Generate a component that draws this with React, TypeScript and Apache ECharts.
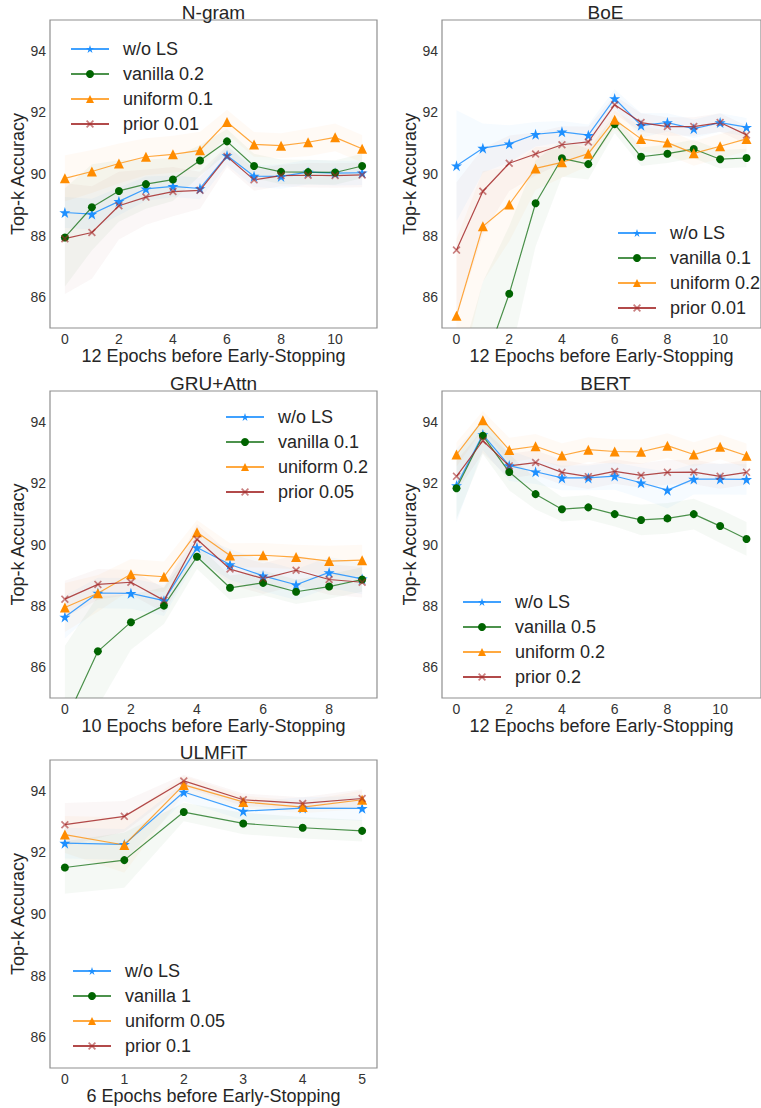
import React, { useEffect, useRef } from "react";
import * as echarts from "echarts";

// ---------- data ----------
const ngramTitle = "N-gram";
const ngramNames = ["w/o LS", "vanilla 0.2", "uniform 0.1", "prior 0.01"];
const ngramWo = [88.75, 88.7, 89.11, 89.52, 89.6, 89.53, 90.6, 89.93, 89.92, 90.06, 90.03, 90.04];
const ngramVanilla = [87.94, 88.92, 89.45, 89.67, 89.82, 90.44, 91.06, 90.26, 90.07, 90.06, 90.05, 90.26];
const ngramUniform = [89.86, 90.08, 90.34, 90.56, 90.64, 90.77, 91.69, 90.96, 90.92, 91.03, 91.19, 90.82];
const ngramPrior = [87.9, 88.1, 88.97, 89.25, 89.43, 89.47, 90.57, 89.81, 89.95, 89.96, 89.95, 89.97];
const ngramWoStd = [0.5, 0.5, 0.45, 0.4, 0.35, 0.35, 0.3, 0.35, 0.4, 0.4, 0.4, 0.4];
const ngramVanillaStd = [1.6, 1.4, 1.0, 0.8, 0.7, 0.5, 0.4, 0.4, 0.4, 0.4, 0.4, 0.4];
const ngramUniformStd = [0.75, 0.7, 0.65, 0.6, 0.6, 0.6, 0.4, 0.4, 0.4, 0.45, 0.45, 0.45];
const ngramPriorStd = [1.8, 1.5, 1.1, 0.9, 0.8, 0.6, 0.35, 0.35, 0.35, 0.4, 0.4, 0.4];

const boeTitle = "BoE";
const boeNames = ["w/o LS", "vanilla 0.1", "uniform 0.2", "prior 0.01"];
const boeWo = [90.27, 90.84, 90.98, 91.29, 91.37, 91.26, 92.45, 91.58, 91.67, 91.47, 91.67, 91.52];
const boeVanilla = [80.5, 83.7, 86.11, 89.05, 90.51, 90.32, 91.62, 90.56, 90.66, 90.81, 90.48, 90.52];
const boeUniform = [85.4, 88.3, 89.01, 90.18, 90.38, 90.66, 91.76, 91.14, 91.02, 90.67, 90.9, 91.14];
const boePrior = [87.53, 89.44, 90.35, 90.65, 90.95, 91.04, 92.25, 91.67, 91.54, 91.54, 91.67, 91.27];
const boeWoStd = [1.8, 0.8, 0.6, 0.4, 0.35, 0.35, 0.3, 0.4, 0.3, 0.3, 0.3, 0.3];
const boeVanillaStd = [3.0, 2.8, 2.2, 1.4, 0.6, 0.5, 0.3, 0.3, 0.3, 0.3, 0.3, 0.3];
const boeUniformStd = [2.5, 1.8, 1.2, 0.7, 0.5, 0.4, 0.3, 0.4, 0.4, 0.4, 0.4, 0.4];
const boePriorStd = [2.2, 1.4, 0.9, 0.7, 0.6, 0.5, 0.3, 0.3, 0.3, 0.3, 0.3, 0.3];

const gruTitle = "GRU+Attn";
const gruNames = ["w/o LS", "vanilla 0.1", "uniform 0.2", "prior 0.05"];
const gruWo = [87.64, 88.42, 88.41, 88.17, 89.9, 89.35, 88.98, 88.69, 89.09, 88.88];
const gruVanilla = [84.2, 86.52, 87.47, 88.01, 89.6, 88.59, 88.75, 88.46, 88.63, 88.86];
const gruUniform = [87.95, 88.41, 89.03, 88.95, 90.4, 89.64, 89.65, 89.59, 89.46, 89.49];
const gruPrior = [88.22, 88.7, 88.77, 88.18, 90.17, 89.2, 88.89, 89.16, 88.86, 88.77];
const gruWoStd = [0.7, 0.5, 0.5, 0.5, 0.4, 0.5, 0.5, 0.5, 0.5, 0.5];
const gruVanillaStd = [2.5, 1.8, 0.9, 0.6, 0.4, 0.4, 0.4, 0.4, 0.4, 0.4];
const gruUniformStd = [0.8, 0.6, 0.5, 0.5, 0.4, 0.4, 0.4, 0.4, 0.5, 0.5];
const gruPriorStd = [0.6, 0.5, 0.4, 0.4, 0.5, 0.5, 0.5, 0.5, 0.5, 0.5];

const bertTitle = "BERT";
const bertNames = ["w/o LS", "vanilla 0.5", "uniform 0.2", "prior 0.2"];
const bertWo = [91.92, 93.58, 92.57, 92.37, 92.17, 92.17, 92.23, 92.01, 91.77, 92.13, 92.13, 92.12];
const bertVanilla = [91.83, 93.54, 92.36, 91.64, 91.15, 91.21, 90.99, 90.8, 90.85, 90.99, 90.6, 90.18];
const bertUniform = [92.93, 94.05, 93.08, 93.2, 92.9, 93.09, 93.03, 93.02, 93.22, 92.93, 93.18, 92.89];
const bertPrior = [92.22, 93.38, 92.56, 92.67, 92.35, 92.21, 92.38, 92.25, 92.35, 92.36, 92.22, 92.35];
const bertWoStd = [1.2, 0.5, 0.5, 0.4, 0.4, 0.4, 0.45, 0.5, 0.6, 0.5, 0.5, 0.5];
const bertVanillaStd = [1.0, 0.6, 0.6, 0.5, 0.4, 0.4, 0.4, 0.5, 0.5, 0.5, 0.55, 0.55];
const bertUniformStd = [0.4, 0.3, 0.4, 0.4, 0.4, 0.4, 0.4, 0.4, 0.4, 0.4, 0.4, 0.4];
const bertPriorStd = [0.5, 0.4, 0.4, 0.4, 0.4, 0.4, 0.4, 0.4, 0.4, 0.4, 0.4, 0.4];

const ulmTitle = "ULMFiT";
const ulmNames = ["w/o LS", "vanilla 1", "uniform 0.05", "prior 0.1"];
const ulmWo = [92.3, 92.26, 93.96, 93.34, 93.44, 93.43];
const ulmVanilla = [91.51, 91.75, 93.31, 92.94, 92.8, 92.7];
const ulmUniform = [92.58, 92.24, 94.19, 93.64, 93.47, 93.71];
const ulmPrior = [92.9, 93.17, 94.32, 93.71, 93.59, 93.75];
const ulmWoStd = [0.5, 0.5, 0.3, 0.3, 0.35, 0.4];
const ulmVanillaStd = [0.85, 0.9, 0.3, 0.35, 0.35, 0.35];
const ulmUniformStd = [0.6, 0.9, 0.3, 0.2, 0.2, 0.3];
const ulmPriorStd = [0.7, 0.5, 0.2, 0.2, 0.2, 0.3];

const xLabel12 = "12 Epochs before Early-Stopping";
const xLabel10 = "10 Epochs before Early-Stopping";
const xLabel6 = "6 Epochs before Early-Stopping";
const xTicks12 = [0, 2, 4, 6, 8, 10];
const xTicks10 = [0, 2, 4, 6, 8];
const xTicks6 = [0, 1, 2, 3, 4, 5];
const yTicks = [86, 88, 90, 92, 94];
const yLabel = "Top-k Accuracy";

// ---------- styles / layout ----------
const FONT = "'Liberation Sans', Arial, sans-serif";
const STAR = "path://M50,0L61.2,34.5L97.6,34.5L68.2,55.9L79.4,90.5L50,69.1L20.6,90.5L31.8,55.9L2.4,34.5L38.8,34.5Z";
const CROSS = "path://M1.5,0L5,3.5L8.5,0L10,1.5L6.5,5L10,8.5L8.5,10L5,6.5L1.5,10L0,8.5L3.5,5L0,1.5Z";

const STYLES = [
  { symbol: STAR, size: 11, color: "#1E90FF", lineOpacity: 0.85, markerOpacity: 1 },
  { symbol: "circle", size: 8, color: "#006400", lineOpacity: 0.7, markerOpacity: 1 },
  { symbol: "triangle", size: 10, color: "#FF8C00", lineOpacity: 0.75, markerOpacity: 1 },
  { symbol: CROSS, size: 8, color: "#A52A2A", lineOpacity: 0.85, markerOpacity: 0.6 },
];

const PANELS = [
  { title: ngramTitle, names: ngramNames, xLabel: xLabel12, xTicks: xTicks12, n: 12,
    means: [ngramWo, ngramVanilla, ngramUniform, ngramPrior], stds: [ngramWoStd, ngramVanillaStd, ngramUniformStd, ngramPriorStd],
    grid: { left: 50, top: 20, width: 327, height: 308 }, legend: { left: 65, top: 35 } },
  { title: boeTitle, names: boeNames, xLabel: xLabel12, xTicks: xTicks12, n: 12,
    means: [boeWo, boeVanilla, boeUniform, boePrior], stds: [boeWoStd, boeVanillaStd, boeUniformStd, boePriorStd],
    grid: { left: 442, top: 20, width: 327, height: 308 }, legend: { left: 612, top: 219 } },
  { title: gruTitle, names: gruNames, xLabel: xLabel10, xTicks: xTicks10, n: 10,
    means: [gruWo, gruVanilla, gruUniform, gruPrior], stds: [gruWoStd, gruVanillaStd, gruUniformStd, gruPriorStd],
    grid: { left: 50, top: 391, width: 327, height: 307 }, legend: { left: 220, top: 403 } },
  { title: bertTitle, names: bertNames, xLabel: xLabel12, xTicks: xTicks12, n: 12,
    means: [bertWo, bertVanilla, bertUniform, bertPrior], stds: [bertWoStd, bertVanillaStd, bertUniformStd, bertPriorStd],
    grid: { left: 442, top: 391, width: 327, height: 307 }, legend: { left: 457, top: 588 } },
  { title: ulmTitle, names: ulmNames, xLabel: xLabel6, xTicks: xTicks6, n: 6,
    means: [ulmWo, ulmVanilla, ulmUniform, ulmPrior], stds: [ulmWoStd, ulmVanillaStd, ulmUniformStd, ulmPriorStd],
    grid: { left: 50, top: 760, width: 327, height: 308 }, legend: { left: 67, top: 957 } },
];

function buildOption() {
  const grid: any[] = [];
  const xAxis: any[] = [];
  const yAxis: any[] = [];
  const legend: any[] = [];
  const series: any[] = [];
  const graphic: any[] = [];

  PANELS.forEach((p, pi) => {
    grid.push({ ...p.grid, show: true, borderColor: "#8f8f8f", borderWidth: 1.2, backgroundColor: "transparent" });
    const margin = (p.n - 1) * 0.05;
    xAxis.push({
      type: "value", gridIndex: pi, min: -margin, max: p.n - 1 + margin,
      axisLine: { show: false }, axisTick: { show: false }, splitLine: { show: false },
      axisLabel: { customValues: p.xTicks, color: "#333", fontSize: 14, fontFamily: FONT, margin: 4 },
      name: p.xLabel, nameLocation: "middle", nameGap: 17,
      nameTextStyle: { fontSize: 18, color: "#262626", fontFamily: FONT },
    });
    yAxis.push({
      type: "value", gridIndex: pi, min: 85, max: 95,
      axisLine: { show: false }, axisTick: { show: false }, splitLine: { show: false },
      axisLabel: { customValues: yTicks, color: "#333", fontSize: 14, fontFamily: FONT, margin: 4 },
      name: yLabel, nameLocation: "middle", nameGap: 20, nameRotate: 90,
      nameTextStyle: { fontSize: 18, color: "#262626", fontFamily: FONT },
    });
    legend.push({
      data: p.names, orient: "vertical", left: p.legend.left, top: p.legend.top,
      itemWidth: 38, itemHeight: 10, itemGap: 7, selectedMode: false,
      textStyle: { fontSize: 18, color: "#262626", fontFamily: FONT, lineHeight: 18, padding: [0, 0, 0, 9] },
    });
    const cx = p.grid.left + p.grid.width / 2;
    graphic.push({
      type: "text", x: cx, y: p.grid.top - 8,
      style: { text: p.title, font: "19px 'Liberation Sans', Arial, sans-serif", fill: "#262626", textAlign: "center", textVerticalAlign: "middle" },
    });

    // shaded bands (mean ± std) drawn as polygons through the axes' coordinate system
    p.means.forEach((m, k) => {
      const s = p.stds[k];
      const st = STYLES[k];
      series.push({
        type: "custom", xAxisIndex: pi, yAxisIndex: pi, silent: true, clip: true, z: 1,
        data: m.map((v, i) => [i, v - s[i], v + s[i]]),
        encode: { x: 0, y: [1, 2] },
        renderItem: (params: any, api: any) => {
          if (params.dataIndex !== 0) return null;
          const upper = m.map((v, i) => api.coord([i, v + s[i]]));
          const lower = m.map((v, i) => api.coord([i, v - s[i]])).reverse();
          return {
            type: "polygon",
            shape: { points: upper.concat(lower) },
            style: { fill: st.color, opacity: 0.04 },
          };
        },
      });
    });
    // lines
    p.means.forEach((m, k) => {
      const st = STYLES[k];
      series.push({
        name: p.names[k], type: "line", xAxisIndex: pi, yAxisIndex: pi, z: 3,
        data: m.map((v, i) => [i, v]),
        symbol: st.symbol, symbolSize: st.size, showAllSymbol: true,
        itemStyle: { color: st.color, opacity: st.markerOpacity },
        lineStyle: { color: st.color, width: 1.2, opacity: st.lineOpacity },
        emphasis: { disabled: true },
      });
    });
  });

  return {
    animation: false,
    backgroundColor: "#ffffff",
    textStyle: { fontFamily: FONT },
    grid, xAxis, yAxis, legend, series, graphic,
  };
}

export default function App() {
  const ref = useRef<HTMLDivElement>(null);
  useEffect(() => {
    document.body.style.margin = "0";
    if (!ref.current) return;
    const chart = echarts.init(ref.current, null, { renderer: "svg" });
    chart.setOption(buildOption());
    return () => chart.dispose();
  }, []);
  return <div ref={ref} style={{ width: 761, height: 1108 }} />;
}
